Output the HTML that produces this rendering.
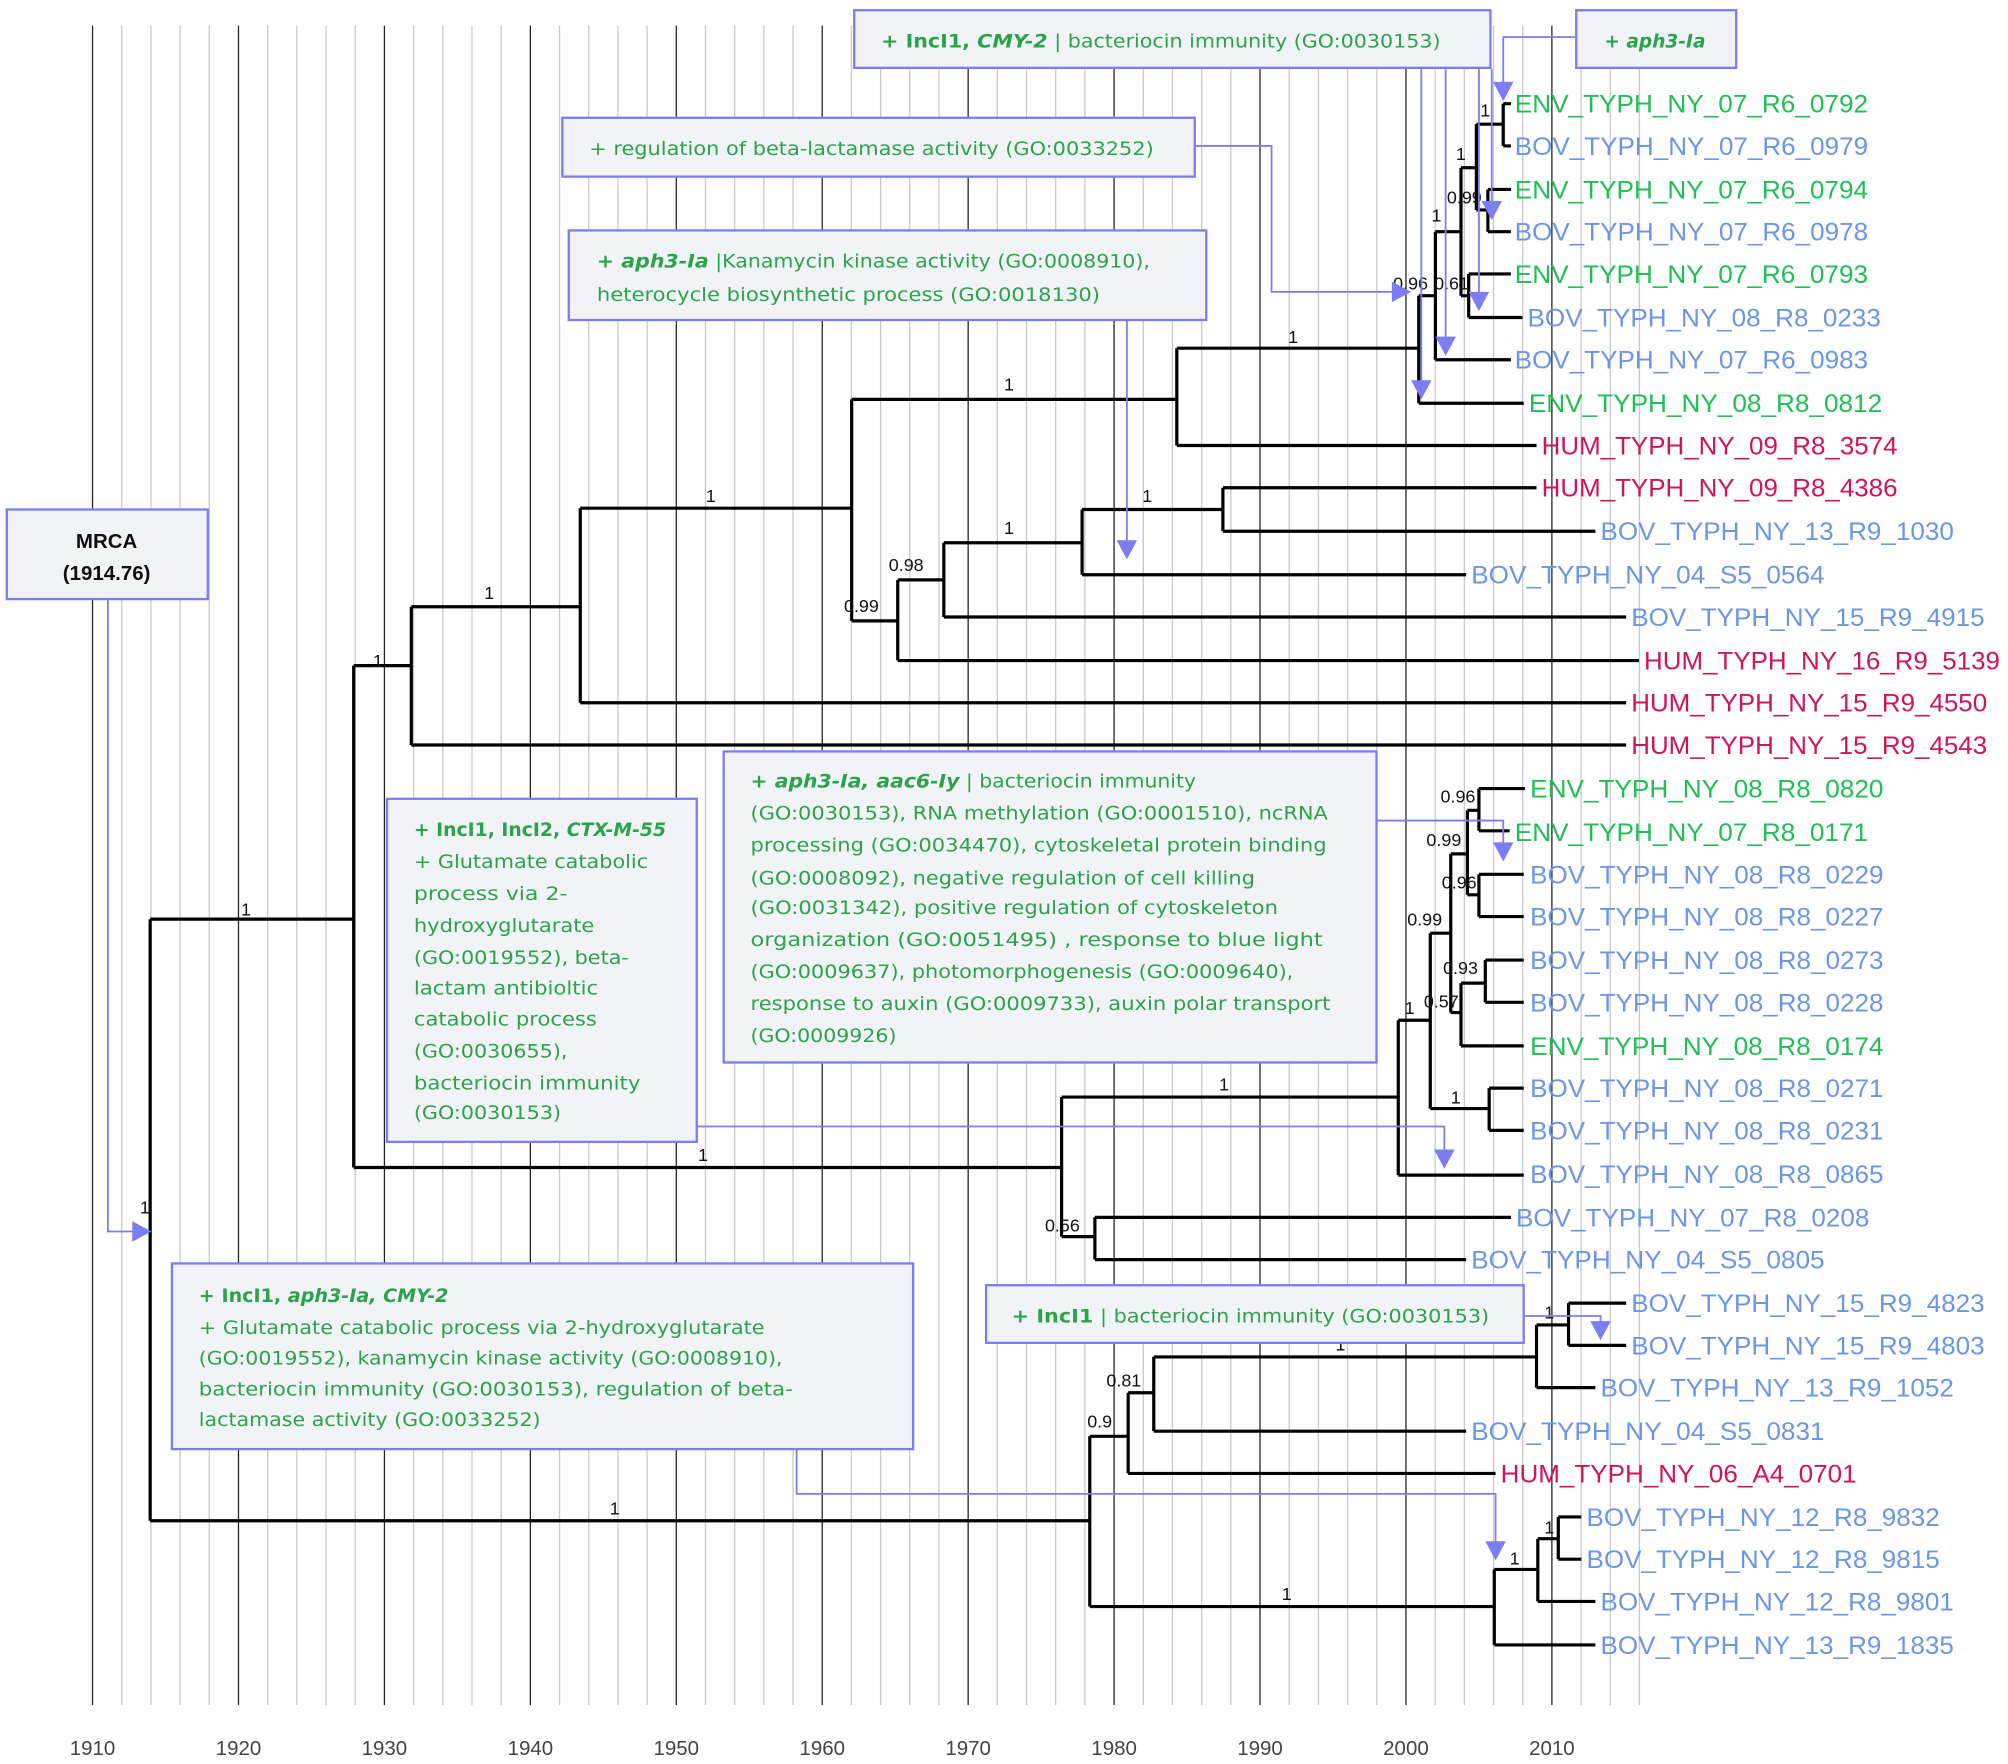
<!DOCTYPE html>
<html><head><meta charset="utf-8"><style>
html,body{margin:0;padding:0;background:#fff}
svg{display:block}
.g{font-family:"Liberation Sans",sans-serif}
.leaf{font-size:19.5px}
.gr{fill:#1fbf55}.bl{fill:#6a96e6}.rd{fill:#d1145a}
.bs{font-size:14px;fill:#111}
.bx{fill:#f2f3f6;stroke:#7d7df2;stroke-width:1.8}
.bt{font-family:"DejaVu Sans","Liberation Sans",sans-serif;font-size:14.5px;fill:#2aa44a}
.b{font-weight:bold}
.ar{stroke:#7d7df2;stroke-width:1.4;fill:none}
.ah{fill:#7d7df2}
.tk{font-size:16px;fill:#444}
</style></head><body>
<svg width="2008" height="1764" viewBox="0 0 1568 1378" class="g">
<g stroke="#c8c8c8" stroke-width="1">
<line x1="94.8" y1="20" x2="94.8" y2="1332"/><line x1="117.6" y1="20" x2="117.6" y2="1332"/><line x1="140.4" y1="20" x2="140.4" y2="1332"/><line x1="163.2" y1="20" x2="163.2" y2="1332"/>
<line x1="208.8" y1="20" x2="208.8" y2="1332"/><line x1="231.6" y1="20" x2="231.6" y2="1332"/><line x1="254.4" y1="20" x2="254.4" y2="1332"/><line x1="277.2" y1="20" x2="277.2" y2="1332"/>
<line x1="322.8" y1="20" x2="322.8" y2="1332"/><line x1="345.6" y1="20" x2="345.6" y2="1332"/><line x1="368.4" y1="20" x2="368.4" y2="1332"/><line x1="391.2" y1="20" x2="391.2" y2="1332"/>
<line x1="436.8" y1="20" x2="436.8" y2="1332"/><line x1="459.6" y1="20" x2="459.6" y2="1332"/><line x1="482.4" y1="20" x2="482.4" y2="1332"/><line x1="505.2" y1="20" x2="505.2" y2="1332"/>
<line x1="550.8" y1="20" x2="550.8" y2="1332"/><line x1="573.6" y1="20" x2="573.6" y2="1332"/><line x1="596.4" y1="20" x2="596.4" y2="1332"/><line x1="619.2" y1="20" x2="619.2" y2="1332"/>
<line x1="664.8" y1="20" x2="664.8" y2="1332"/><line x1="687.6" y1="20" x2="687.6" y2="1332"/><line x1="710.4" y1="20" x2="710.4" y2="1332"/><line x1="733.2" y1="20" x2="733.2" y2="1332"/>
<line x1="778.8" y1="20" x2="778.8" y2="1332"/><line x1="801.6" y1="20" x2="801.6" y2="1332"/><line x1="824.4" y1="20" x2="824.4" y2="1332"/><line x1="847.2" y1="20" x2="847.2" y2="1332"/>
<line x1="892.8" y1="20" x2="892.8" y2="1332"/><line x1="915.6" y1="20" x2="915.6" y2="1332"/><line x1="938.4" y1="20" x2="938.4" y2="1332"/><line x1="961.2" y1="20" x2="961.2" y2="1332"/>
<line x1="1006.8" y1="20" x2="1006.8" y2="1332"/><line x1="1029.6" y1="20" x2="1029.6" y2="1332"/><line x1="1052.4" y1="20" x2="1052.4" y2="1332"/><line x1="1075.2" y1="20" x2="1075.2" y2="1332"/>
<line x1="1120.8" y1="20" x2="1120.8" y2="1332"/><line x1="1143.6" y1="20" x2="1143.6" y2="1332"/><line x1="1166.4" y1="20" x2="1166.4" y2="1332"/><line x1="1189.2" y1="20" x2="1189.2" y2="1332"/>
<line x1="1234.8" y1="20" x2="1234.8" y2="1332"/><line x1="1257.6" y1="20" x2="1257.6" y2="1332"/><line x1="1280.4" y1="20" x2="1280.4" y2="1332"/>
</g>
<g stroke="#222" stroke-width="1">
<line x1="72" y1="20" x2="72" y2="1332"/><line x1="186" y1="20" x2="186" y2="1332"/><line x1="300" y1="20" x2="300" y2="1332"/><line x1="414" y1="20" x2="414" y2="1332"/><line x1="528" y1="20" x2="528" y2="1332"/><line x1="642" y1="20" x2="642" y2="1332"/><line x1="756" y1="20" x2="756" y2="1332"/><line x1="870" y1="20" x2="870" y2="1332"/><line x1="984" y1="20" x2="984" y2="1332"/><line x1="1098" y1="20" x2="1098" y2="1332"/><line x1="1212" y1="20" x2="1212" y2="1332"/>
</g>
<g class="tk" text-anchor="middle">
<text x="72" y="1371">1910</text><text x="186" y="1371">1920</text><text x="300" y="1371">1930</text><text x="414" y="1371">1940</text><text x="528" y="1371">1950</text><text x="642" y="1371">1960</text><text x="756" y="1371">1970</text><text x="870" y="1371">1980</text><text x="984" y="1371">1990</text><text x="1098" y="1371">2000</text><text x="1212" y="1371">2010</text>
</g>
<path fill="none" stroke="#000" stroke-width="2.5" d="
M117 718V1188 M117 718H276 M276 520V912 M276 520H321 M321 474V582 M321 474H453 M453 397V549
M453 397H665 M665 312V485 M665 312H919 M919 272V348 M919 272H1108 M1108 231V315 M1108 315H1190
M1108 231H1121 M1121 181V281 M1121 281H1180 M1121 181H1141 M1141 131V231 M1141 231H1147 M1147 214V248 M1147 214H1180 M1147 248H1189
M1141 131H1153 M1153 97V164 M1153 97H1174 M1174 81V114 M1174 81H1180 M1174 114H1180 M1153 164H1162 M1162 148V181 M1162 148H1180 M1162 181H1180
M919 348H1200 M665 485H701 M701 453V516 M701 516H1280 M701 453H737 M737 424V482 M737 482H1270 M737 424H845 M845 398V449 M845 449H1145
M845 398H955 M955 381V415 M955 381H1200 M955 415H1246 M453 549H1270 M321 582H1270
M276 912H829 M829 857V966 M829 857H1092 M1092 797V918 M1092 918H1190 M1092 797H1117 M1117 729V866 M1117 866H1163 M1163 850V883 M1163 850H1190 M1163 883H1190
M1117 729H1133 M1133 667V791 M1133 667H1146 M1146 633V699 M1146 633H1155 M1155 616V649 M1155 616H1191 M1155 649H1179 M1146 699H1155 M1155 683V716 M1155 683H1190 M1155 716H1190
M1133 791H1141 M1141 768V817 M1141 817H1190 M1141 768H1160 M1160 750V783 M1160 750H1190 M1160 783H1190
M829 966H855 M855 951V984 M855 951H1180 M855 984H1145
M117 1188H851 M851 1122V1255 M851 1122H881 M881 1088V1151 M881 1151H1168 M881 1088H901 M901 1060V1118 M901 1118H1145
M901 1060H1200 M1200 1035V1084 M1200 1084H1246 M1200 1035H1225 M1225 1018V1051 M1225 1018H1270 M1225 1051H1270
M851 1255H1167 M1167 1226V1285 M1167 1285H1246 M1167 1226H1201 M1201 1202V1251 M1201 1251H1246 M1201 1202H1217 M1217 1185V1218 M1217 1185H1235 M1217 1218H1235"/>
<g class="bs">
<text x="109" y="948">1</text><text x="188" y="715">1</text><text x="291" y="521">1</text><text x="378" y="468">1</text><text x="551" y="392">1</text><text x="784" y="305">1</text><text x="1006" y="268">1</text>
<text x="1156" y="91">1</text><text x="1137" y="125">1</text><text x="1130" y="159">0.99</text><text x="1118" y="173">1</text><text x="1088" y="226">0.96</text><text x="1120" y="226">0.61</text>
<text x="892" y="392">1</text><text x="784" y="417">1</text><text x="694" y="446">0.98</text><text x="659" y="478">0.99</text>
<text x="545" y="907">1</text><text x="952" y="852">1</text><text x="816" y="962">0.56</text><text x="1097" y="792">1</text><text x="1099" y="723">0.99</text><text x="1114" y="661">0.99</text><text x="1125" y="627">0.96</text><text x="1126" y="694">0.96</text><text x="1127" y="761">0.93</text><text x="1112" y="787">0.57</text><text x="1133" y="862">1</text>
<text x="476" y="1183">1</text><text x="849" y="1115">0.9</text><text x="864" y="1083">0.81</text><text x="1043" y="1055">1</text><text x="1206" y="1030">1</text><text x="1001" y="1250">1</text><text x="1179" y="1222">1</text><text x="1206" y="1198">1</text>
</g>
<g class="leaf">
<text class="gr" x="1183" y="88" textLength="276" lengthAdjust="spacingAndGlyphs">ENV_TYPH_NY_07_R6_0792</text>
<text class="bl" x="1183" y="121" textLength="276" lengthAdjust="spacingAndGlyphs">BOV_TYPH_NY_07_R6_0979</text>
<text class="gr" x="1183" y="155" textLength="276" lengthAdjust="spacingAndGlyphs">ENV_TYPH_NY_07_R6_0794</text>
<text class="bl" x="1183" y="188" textLength="276" lengthAdjust="spacingAndGlyphs">BOV_TYPH_NY_07_R6_0978</text>
<text class="gr" x="1183" y="221" textLength="276" lengthAdjust="spacingAndGlyphs">ENV_TYPH_NY_07_R6_0793</text>
<text class="bl" x="1193" y="255" textLength="276" lengthAdjust="spacingAndGlyphs">BOV_TYPH_NY_08_R8_0233</text>
<text class="bl" x="1183" y="288" textLength="276" lengthAdjust="spacingAndGlyphs">BOV_TYPH_NY_07_R6_0983</text>
<text class="gr" x="1194" y="322" textLength="276" lengthAdjust="spacingAndGlyphs">ENV_TYPH_NY_08_R8_0812</text>
<text class="rd" x="1204" y="355" textLength="278" lengthAdjust="spacingAndGlyphs">HUM_TYPH_NY_09_R8_3574</text>
<text class="rd" x="1204" y="388" textLength="278" lengthAdjust="spacingAndGlyphs">HUM_TYPH_NY_09_R8_4386</text>
<text class="bl" x="1250" y="422" textLength="276" lengthAdjust="spacingAndGlyphs">BOV_TYPH_NY_13_R9_1030</text>
<text class="bl" x="1149" y="456" textLength="276" lengthAdjust="spacingAndGlyphs">BOV_TYPH_NY_04_S5_0564</text>
<text class="bl" x="1274" y="489" textLength="276" lengthAdjust="spacingAndGlyphs">BOV_TYPH_NY_15_R9_4915</text>
<text class="rd" x="1284" y="523" textLength="278" lengthAdjust="spacingAndGlyphs">HUM_TYPH_NY_16_R9_5139</text>
<text class="rd" x="1274" y="556" textLength="278" lengthAdjust="spacingAndGlyphs">HUM_TYPH_NY_15_R9_4550</text>
<text class="rd" x="1274" y="589" textLength="278" lengthAdjust="spacingAndGlyphs">HUM_TYPH_NY_15_R9_4543</text>
<text class="gr" x="1195" y="623" textLength="276" lengthAdjust="spacingAndGlyphs">ENV_TYPH_NY_08_R8_0820</text>
<text class="gr" x="1183" y="657" textLength="276" lengthAdjust="spacingAndGlyphs">ENV_TYPH_NY_07_R8_0171</text>
<text class="bl" x="1195" y="690" textLength="276" lengthAdjust="spacingAndGlyphs">BOV_TYPH_NY_08_R8_0229</text>
<text class="bl" x="1195" y="723" textLength="276" lengthAdjust="spacingAndGlyphs">BOV_TYPH_NY_08_R8_0227</text>
<text class="bl" x="1195" y="757" textLength="276" lengthAdjust="spacingAndGlyphs">BOV_TYPH_NY_08_R8_0273</text>
<text class="bl" x="1195" y="790" textLength="276" lengthAdjust="spacingAndGlyphs">BOV_TYPH_NY_08_R8_0228</text>
<text class="gr" x="1195" y="824" textLength="276" lengthAdjust="spacingAndGlyphs">ENV_TYPH_NY_08_R8_0174</text>
<text class="bl" x="1195" y="857" textLength="276" lengthAdjust="spacingAndGlyphs">BOV_TYPH_NY_08_R8_0271</text>
<text class="bl" x="1195" y="890" textLength="276" lengthAdjust="spacingAndGlyphs">BOV_TYPH_NY_08_R8_0231</text>
<text class="bl" x="1195" y="924" textLength="276" lengthAdjust="spacingAndGlyphs">BOV_TYPH_NY_08_R8_0865</text>
<text class="bl" x="1184" y="958" textLength="276" lengthAdjust="spacingAndGlyphs">BOV_TYPH_NY_07_R8_0208</text>
<text class="bl" x="1149" y="991" textLength="276" lengthAdjust="spacingAndGlyphs">BOV_TYPH_NY_04_S5_0805</text>
<text class="bl" x="1274" y="1025" textLength="276" lengthAdjust="spacingAndGlyphs">BOV_TYPH_NY_15_R9_4823</text>
<text class="bl" x="1274" y="1058" textLength="276" lengthAdjust="spacingAndGlyphs">BOV_TYPH_NY_15_R9_4803</text>
<text class="bl" x="1250" y="1091" textLength="276" lengthAdjust="spacingAndGlyphs">BOV_TYPH_NY_13_R9_1052</text>
<text class="bl" x="1149" y="1125" textLength="276" lengthAdjust="spacingAndGlyphs">BOV_TYPH_NY_04_S5_0831</text>
<text class="rd" x="1172" y="1158" textLength="278" lengthAdjust="spacingAndGlyphs">HUM_TYPH_NY_06_A4_0701</text>
<text class="bl" x="1239" y="1192" textLength="276" lengthAdjust="spacingAndGlyphs">BOV_TYPH_NY_12_R8_9832</text>
<text class="bl" x="1239" y="1225" textLength="276" lengthAdjust="spacingAndGlyphs">BOV_TYPH_NY_12_R8_9815</text>
<text class="bl" x="1250" y="1258" textLength="276" lengthAdjust="spacingAndGlyphs">BOV_TYPH_NY_12_R8_9801</text>
<text class="bl" x="1250" y="1292" textLength="276" lengthAdjust="spacingAndGlyphs">BOV_TYPH_NY_13_R9_1835</text>
</g>
<g class="ar">
<path d="M1110 54V298 M1129 54V265 M1155 54V230 M1165 54V159 M1230 29H1174V66"/>
<path d="M933 114H993V228H1088"/>
<path d="M880 250V424"/>
<path d="M84 468V962H104"/>
<path d="M1075 641H1174V659"/>
<path d="M544 880H1128V899"/>
<path d="M622 1132V1167H1168V1205"/>
<path d="M1190 1028H1250V1033"/>
</g>
<g class="ah">
<polygon points="1102,297 1118,297 1110,312"/>
<polygon points="1121,263 1137,263 1129,278"/>
<polygon points="1147,228 1163,228 1155,243"/>
<polygon points="1157,157 1173,157 1165,172"/>
<polygon points="1166,64 1182,64 1174,79"/>
<polygon points="1087,220 1087,236 1102,228"/>
<polygon points="872,422 888,422 880,437"/>
<polygon points="103,954 103,970 118,962"/>
<polygon points="1166,658 1182,658 1174,673"/>
<polygon points="1120,898 1136,898 1128,913"/>
<polygon points="1160,1204 1176,1204 1168,1219"/>
<polygon points="1242,1032 1258,1032 1250,1047"/>
</g>
<rect class="bx" x="667" y="8" width="497" height="45"/>
<text class="bt" x="688" y="37" textLength="437" lengthAdjust="spacingAndGlyphs"><tspan class="b">+ IncI1, <tspan font-style="italic">CMY-2</tspan></tspan> | bacteriocin immunity (GO:0030153)</text>
<rect class="bx" x="1231" y="8" width="125" height="45"/>
<text class="bt b" x="1253" y="37" font-style="italic" textLength="79" lengthAdjust="spacingAndGlyphs">+ aph3-Ia</text>
<rect class="bx" x="439" y="92" width="494" height="46"/>
<text class="bt" x="460" y="121" textLength="441" lengthAdjust="spacingAndGlyphs">+ regulation of beta-lactamase activity (GO:0033252)</text>
<rect class="bx" x="444" y="180" width="498" height="70"/>
<text class="bt" x="466" y="209" textLength="432" lengthAdjust="spacingAndGlyphs"><tspan class="b" font-style="italic">+ aph3-Ia</tspan> |Kanamycin kinase activity (GO:0008910),</text>
<text class="bt" x="466" y="235" textLength="393" lengthAdjust="spacingAndGlyphs">heterocycle biosynthetic process (GO:0018130)</text>
<rect class="bx" x="5" y="398" width="157" height="70"/>
<text x="83" y="428" text-anchor="middle" class="b" font-size="16" fill="#111">MRCA</text>
<text x="83" y="453" text-anchor="middle" class="b" font-size="16" fill="#111">(1914.76)</text>
<rect class="bx" x="565" y="587" width="510" height="243"/>
<g class="bt">
<text x="586" y="615" textLength="348" lengthAdjust="spacingAndGlyphs"><tspan class="b" font-style="italic">+ aph3-Ia, aac6-Iy</tspan> | bacteriocin immunity</text>
<text x="586" y="640" textLength="451" lengthAdjust="spacingAndGlyphs">(GO:0030153), RNA methylation (GO:0001510), ncRNA</text>
<text x="586" y="665" textLength="450" lengthAdjust="spacingAndGlyphs">processing (GO:0034470), cytoskeletal protein binding</text>
<text x="586" y="691" textLength="394" lengthAdjust="spacingAndGlyphs">(GO:0008092), negative regulation of cell killing</text>
<text x="586" y="714" textLength="412" lengthAdjust="spacingAndGlyphs">(GO:0031342), positive regulation of cytoskeleton</text>
<text x="586" y="739" textLength="447" lengthAdjust="spacingAndGlyphs">organization (GO:0051495) , response to blue light</text>
<text x="586" y="764" textLength="424" lengthAdjust="spacingAndGlyphs">(GO:0009637), photomorphogenesis (GO:0009640),</text>
<text x="586" y="789" textLength="453" lengthAdjust="spacingAndGlyphs">response to auxin (GO:0009733), auxin polar transport</text>
<text x="586" y="814" textLength="114" lengthAdjust="spacingAndGlyphs">(GO:0009926)</text>
</g>
<rect class="bx" x="302" y="624" width="242" height="268"/>
<g class="bt">
<text x="323" y="653" class="b" textLength="197" lengthAdjust="spacingAndGlyphs">+ IncI1, IncI2, <tspan font-style="italic">CTX-M-55</tspan></text>
<text x="323" y="678" textLength="183" lengthAdjust="spacingAndGlyphs">+ Glutamate catabolic</text>
<text x="323" y="703" textLength="120" lengthAdjust="spacingAndGlyphs">process via 2-</text>
<text x="323" y="728" textLength="141" lengthAdjust="spacingAndGlyphs">hydroxyglutarate</text>
<text x="323" y="753" textLength="168" lengthAdjust="spacingAndGlyphs">(GO:0019552), beta-</text>
<text x="323" y="777" textLength="144" lengthAdjust="spacingAndGlyphs">lactam antibioltic</text>
<text x="323" y="801" textLength="143" lengthAdjust="spacingAndGlyphs">catabolic process</text>
<text x="323" y="826" textLength="120" lengthAdjust="spacingAndGlyphs">(GO:0030655),</text>
<text x="323" y="851" textLength="177" lengthAdjust="spacingAndGlyphs">bacteriocin immunity</text>
<text x="323" y="874" textLength="115" lengthAdjust="spacingAndGlyphs">(GO:0030153)</text>
</g>
<rect class="bx" x="134" y="987" width="579" height="145"/>
<g class="bt">
<text x="155" y="1017" class="b" textLength="195" lengthAdjust="spacingAndGlyphs">+ IncI1, <tspan font-style="italic">aph3-Ia, CMY-2</tspan></text>
<text x="155" y="1042" textLength="442" lengthAdjust="spacingAndGlyphs">+ Glutamate catabolic process via 2-hydroxyglutarate</text>
<text x="155" y="1066" textLength="456" lengthAdjust="spacingAndGlyphs">(GO:0019552), kanamycin kinase activity (GO:0008910),</text>
<text x="155" y="1090" textLength="464" lengthAdjust="spacingAndGlyphs">bacteriocin immunity (GO:0030153), regulation of beta-</text>
<text x="155" y="1114" textLength="267" lengthAdjust="spacingAndGlyphs">lactamase activity (GO:0033252)</text>
</g>
<rect class="bx" x="770" y="1004" width="420" height="45"/>
<text class="bt" x="790" y="1033" textLength="373" lengthAdjust="spacingAndGlyphs"><tspan class="b">+ IncI1</tspan> | bacteriocin immunity (GO:0030153)</text>
</svg>
</body></html>
